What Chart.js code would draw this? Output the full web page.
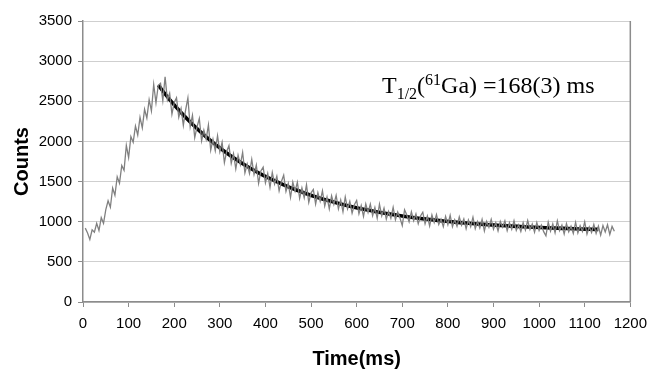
<!DOCTYPE html>
<html>
<head>
<meta charset="utf-8">
<script src="https://cdn.jsdelivr.net/npm/chart.js@4.4.1/dist/chart.umd.min.js"></script>
<style>
  html, body { margin: 0; padding: 0; background: #fff; }
  #wrap { width: 655px; height: 375px; }
</style>
</head>
<body>
<div id="wrap"><canvas id="grafico" width="655" height="375"></canvas></div>
<script>
// Dados
const xTicks = [0, 100, 200, 300, 400, 500, 600, 700, 800, 900, 1000, 1100, 1200];
const yTicks = [0, 500, 1000, 1500, 2000, 2500, 3000, 3500];

// contagens medidas: uma a cada 5 ms, começando em 5 ms
const countsStart = 5;
const countsStep = 5;
const counts = [
  920, 860, 780, 900, 870, 980, 890, 1050, 980, 1150,
  1260, 1180, 1420, 1330, 1560, 1480, 1700, 1640, 1950, 1800,
  2060, 1990, 2190, 2080, 2300, 2170, 2400, 2290, 2520, 2380,
  2710, 2480, 2700,
  2725, 2510, 2804, 2517, 2601, 2339, 2486, 2544, 2302, 2410,
  2201, 2392, 2542, 2183, 2324, 2048, 2181, 2285, 2008, 2142,
  2028, 2204, 1891, 2027, 1883, 2072, 1870, 1989, 1737, 1876,
  1947, 1727, 1848, 1658, 1829, 1712, 1864, 1607, 1719, 1602,
  1776, 1590, 1705, 1479, 1633, 1679, 1485, 1601, 1427, 1613,
  1470, 1567, 1385, 1502, 1579, 1377, 1476, 1304, 1493, 1381,
  1491, 1290, 1420, 1299, 1459, 1240, 1360, 1401, 1221, 1362,
  1254, 1385, 1197, 1308, 1160, 1322, 1215, 1327, 1160, 1272,
  1125, 1308, 1161, 1254, 1107, 1211, 1265, 1098, 1202, 1066,
  1220, 1115, 1219, 1074, 1178, 1043, 1218, 1073, 1168, 1033,
  1128, 1044, 1179, 1025, 1120, 1046, 952, 1148, 1083, 999,
  1125, 1012, 1098, 975, 1071, 1118, 974, 1071, 947, 1084,
  991, 1088, 965, 1032, 939, 1066, 963, 1080, 938, 1025,
  943, 1060, 958, 1035, 913, 1021, 939, 1056, 914, 1002,
  920, 1028, 886, 1004, 932, 1030, 908, 987, 885, 1003,
  931, 1010, 888, 987, 905, 1014, 892, 961, 879, 988,
  897, 1015, 904, 972, 871, 990, 889, 957, 876, 825,
  994, 883, 972, 861, 1010, 889, 958, 847, 976, 875,
  944, 853, 992, 861, 950, 879, 998, 847, 936, 866,
  965, 854, 944, 833, 953, 872, 962, 841, 941, 880
];

// curva ajustada (T1/2 = 168 ms)
const fitTime = [165, 190, 215, 240, 265, 290, 315, 340, 365, 390,
  415, 440, 465, 490, 515, 540, 565, 590, 615, 640,
  665, 690, 715, 740, 765, 790, 815, 840, 865, 890,
  915, 940, 965, 990, 1015, 1040, 1065, 1090, 1115, 1130];
const fitCounts = [2700, 2521, 2360, 2214, 2082, 1963, 1856, 1759, 1672, 1593,
  1523, 1459, 1401, 1349, 1302, 1260, 1222, 1187, 1156, 1128,
  1103, 1080, 1059, 1041, 1024, 1009, 995, 983, 972, 962,
  953, 945, 938, 931, 925, 920, 915, 910, 906, 904];

const pontosContagem = counts.map((v, i) => ({ x: countsStart + i * countsStep, y: v }));
const pontosAjuste = fitCounts.map((v, i) => ({ x: fitTime[i], y: v }));

const fonteEixo = 'Arial, "Liberation Sans", sans-serif';

// texto T1/2(61Ga)=168(3) ms com sub e sobrescrito
const anotacao = {
  id: 'anotacao',
  afterDraw(chart) {
    const ctx = chart.ctx;
    const serif = '"Liberation Serif", "Times New Roman", serif';
    let x = 382;
    const y = 93;
    const partes = [
      { t: 'T', size: 24, dy: 0 },
      { t: '1/2', size: 16, dy: 6 },
      { t: '(', size: 24, dy: 0 },
      { t: '61', size: 16, dy: -8 },
      { t: 'Ga) =168(3) ms', size: 24, dy: 0 }
    ];
    ctx.save();
    ctx.fillStyle = '#000';
    ctx.textBaseline = 'alphabetic';
    partes.forEach(p => {
      ctx.font = p.size + 'px ' + serif;
      ctx.fillText(p.t, x, y + p.dy);
      x += ctx.measureText(p.t).width;
    });
    // borda direita da área do gráfico
    const a = chart.chartArea;
    ctx.strokeStyle = '#8c8c8c';
    ctx.lineWidth = 1.5;
    ctx.beginPath();
    ctx.moveTo(a.right, a.top);
    ctx.lineTo(a.right, a.bottom);
    ctx.stroke();
    ctx.restore();
  }
};

const ctx = document.getElementById('grafico').getContext('2d');
new Chart(ctx, {
  type: 'scatter',
  data: {
    datasets: [
      {
        label: 'Counts',
        data: pontosContagem,
        showLine: true,
        borderColor: '#808080',
        borderWidth: 1.3,
        pointRadius: 0,
        tension: 0
      },
      {
        label: 'Fit',
        data: pontosAjuste,
        showLine: true,
        borderColor: '#000',
        borderWidth: 3.6,
        pointRadius: 0,
        tension: 0.3
      }
    ]
  },
  options: {
    responsive: false,
    animation: false,
    layout: { padding: { left: 0, top: 21, right: 22, bottom: 0 } },
    plugins: {
      legend: { display: false },
      tooltip: { enabled: false }
    },
    scales: {
      x: {
        type: 'linear',
        min: 0,
        max: 1200,
        afterBuildTicks: s => { s.ticks = xTicks.map(v => ({ value: v })); },
        afterFit: s => { s.height = 73; },
        ticks: {
          color: '#000',
          font: { family: fonteEixo, size: 15 },
          padding: 8,
          maxRotation: 0,
          callback: v => String(v)
        },
        grid: { drawOnChartArea: false, drawTicks: true, tickLength: 5, tickColor: '#8c8c8c' },
        border: { color: '#8c8c8c', width: 1.5 },
        title: {
          display: true,
          text: 'Time(ms)',
          color: '#000',
          font: { family: fonteEixo, size: 20, weight: 'bold' },
          padding: { top: 12 }
        }
      },
      y: {
        min: 0,
        max: 3500,
        afterBuildTicks: s => { s.ticks = yTicks.map(v => ({ value: v })); },
        afterFit: s => { s.width = 83; },
        ticks: {
          color: '#000',
          font: { family: fonteEixo, size: 15 },
          padding: 6,
          callback: v => String(v)
        },
        grid: { color: '#cfcfcf', lineWidth: 1, drawTicks: true, tickLength: 5, tickColor: '#8c8c8c' },
        border: { color: '#8c8c8c', width: 1.5 },
        title: {
          display: true,
          text: 'Counts',
          color: '#000',
          font: { family: fonteEixo, size: 20, weight: 'bold' },
          padding: { top: 10 }
        }
      }
    }
  },
  plugins: [anotacao]
});
</script>
</body>
</html>
